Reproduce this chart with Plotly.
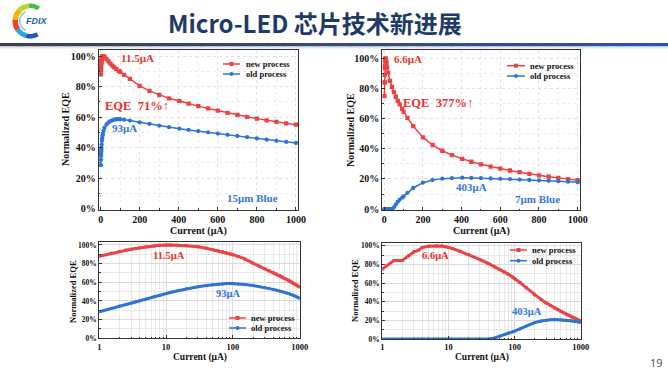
import numpy as np
import plotly.graph_objects as go

# ---------------- data ----------------
current = [1, 1.5, 2, 2.5, 3, 3.5, 4, 5, 6.6, 8, 10, 11.5, 15, 20, 30, 40, 50, 60, 70, 80,
           93, 100, 120, 150, 200, 250, 300, 350, 403, 450, 500, 550, 600, 650, 700, 750,
           800, 850, 900, 950, 1000]

new_15um = [88, 91, 93, 94.5, 95.5, 96.3, 97, 98, 99, 99.6, 100, 100, 99.8, 99.3, 98, 96.5,
            95, 93.8, 92.6, 91.5, 90.3, 89.6, 87.7, 85, 80.5, 77.2, 74.5, 72.3, 70.5, 68.8,
            67.2, 65.7, 64.2, 62.8, 61.5, 60.2, 59, 57.9, 56.9, 55.9, 55]
old_15um = [28.5, 32, 34.5, 36.2, 37.5, 38.8, 40, 42, 44.5, 46.2, 48, 49, 51, 53, 55.2, 56.5,
            57.3, 57.9, 58.3, 58.6, 58.7, 58.6, 58.3, 57.7, 56.6, 55.5, 54.4, 53.4, 52.4, 51.6,
            50.8, 50, 49.2, 48.4, 47.6, 46.8, 46, 45.2, 44.5, 43.7, 43]
new_7um = [75, 84, 84, 89, 93.5, 95, 98, 99.5, 100, 99.6, 98, 97, 94, 90.5, 85, 81,
           77.5, 74.5, 71.8, 69.5, 66.5, 64.5, 60.5, 55, 47.5, 42.5, 38.7, 35.8, 33.3, 31.4,
           29.7, 28.2, 26.8, 25.6, 24.5, 23.4, 22.4, 21.5, 20.7, 19.9, 19.2]
old_7um = [0, 0, 0, 0, 0, 0, 0, 0, 0, 0, 0, 0, 0, 0, 0, 0,
           1.2, 3, 4.8, 6.3, 7.6, 8.4, 10.8, 14, 17.5, 19.3, 20.2, 20.6, 20.8, 20.7,
           20.5, 20.3, 20.1, 19.9, 19.6, 19.3, 19.1, 18.8, 18.5, 18.2, 17.8]

series_names = ["new process", "old process"]
log_ticks = [1, 10, 100, 1000]
log_ticktext = ["1", "10", "100", "1000"]

# ---------------- styling ----------------
W, H = 668, 373
def px(x): return x / W
def py(y): return 1 - y / H

RED = "#EB4343"
BLUE = "#2E74D6"
RED_T = "#E8322E"
BLUE_T = "#3478D8"
SERIF = "Liberation Serif"

fig = go.Figure()

panels = [
    ("x", "y", new_15um, old_15um, False),
    ("x2", "y2", new_7um, old_7um, False),
    ("x3", "y3", new_15um, old_15um, True),
    ("x4", "y4", new_7um, old_7um, True),
]
for xa, ya, newv, oldv, is_log in panels:
    for name, vals, color, sym in [(series_names[0], newv, RED, "square"),
                                   (series_names[1], oldv, BLUE, "circle")]:
        fig.add_trace(go.Scatter(
            x=current, y=vals, name=name, mode="lines+markers", showlegend=False,
            line=dict(color=color, width=3 if is_log else 1.5),
            marker=dict(color=color, size=3 if is_log else 4.3, symbol=sym),
            xaxis=xa, yaxis=ya, hoverinfo="skip"))

tick_font_top = dict(family=SERIF, size=10, color="#111", weight="bold")
tick_font_bot = dict(family=SERIF, size=7.5, color="#111", weight="bold")
frame = dict(showline=True, mirror=True, linecolor="#333", linewidth=1, zeroline=False,
             fixedrange=True, tickcolor="#333", ticks="inside", automargin=False)

def lin_x(domain, anchor):
    return dict(domain=domain, anchor=anchor, range=[-10, 1012], tick0=0, dtick=200,
                ticklen=3, showgrid=True, gridcolor="#E2E2E2", griddash="dot",
                minor=dict(dtick=100, ticks="inside", ticklen=1.5, tickcolor="#333",
                           showgrid=True, gridcolor="#ECECEC", griddash="dot"),
                tickfont=tick_font_top, **frame)

def lin_y(domain, anchor, top):
    return dict(domain=domain, anchor=anchor, range=[-0.6, top], tick0=0, dtick=20,
                ticksuffix="%", ticklen=3, showgrid=True, gridcolor="#E2E2E2", griddash="dot",
                minor=dict(dtick=10, ticks="inside", ticklen=1.5, tickcolor="#333",
                           showgrid=True, gridcolor="#ECECEC", griddash="dot"),
                tickfont=tick_font_top, **frame)

def log_x(domain, anchor):
    return dict(domain=domain, anchor=anchor, type="log", range=[0, 3],
                tickvals=log_ticks, ticktext=log_ticktext, ticklen=3,
                showgrid=True, gridcolor="#DADADA",
                minor=dict(dtick="D1", ticks="inside", ticklen=1.5, tickcolor="#333",
                           showgrid=True, gridcolor="#E8E8E8"),
                tickfont=dict(family=SERIF, size=8.5, color="#111", weight="bold"), **frame)

def log_y(domain, anchor, top):
    return dict(domain=domain, anchor=anchor, range=[0, top], tick0=0, dtick=20,
                ticksuffix="%", ticklen=3, showgrid=True, gridcolor="#DADADA",
                minor=dict(dtick=10, ticks="inside", ticklen=1.5, tickcolor="#333",
                           showgrid=True, gridcolor="#E8E8E8"),
                tickfont=tick_font_bot, **frame)

fig.update_layout(
    width=W, height=H, autosize=False,
    margin=dict(l=0, r=0, t=0, b=0, pad=0, autoexpand=False),
    paper_bgcolor="white", plot_bgcolor="white", showlegend=False,
    xaxis=lin_x([px(98.7), px(298.3)], "y"),
    yaxis=lin_y([py(209.5), py(50)], "x", 104),
    xaxis2=lin_x([px(382.3), px(580)], "y2"),
    yaxis2=lin_y([py(210), py(50)], "x2", 105.5),
    xaxis3=log_x([px(99.3), px(299.7)], "y3"),
    yaxis3=log_y([py(338.3), py(241.7)], "x3", 103.5),
    xaxis4=log_x([px(382.3), px(580.7)], "y4"),
    yaxis4=log_y([py(339), py(242.7)], "x4", 103.2),
)

def ann(text, x, y, xref, yref, color, size, xanchor="center", yanchor="middle", **kw):
    fig.add_annotation(text=text, x=x, y=y, xref=xref, yref=yref, showarrow=False,
                       xanchor=xanchor, yanchor=yanchor,
                       font=dict(family=SERIF, size=size, color=color, weight="bold"), **kw)

# in-plot labels (data coordinates)
ann("11.5μA", 190, 99, "x", "y", RED_T, 11)
ann("EQE  71%↑", 188, 67.2, "x", "y", RED_T, 12.5)
ann("93μA", 124, 52.7, "x", "y", BLUE_T, 11)
ann("15μm Blue", 780, 6.8, "x", "y", BLUE_T, 11)
ann("6.6μA", 122, 99.3, "x2", "y2", RED_T, 11)
ann("EQE  377%↑", 276, 70.3, "x2", "y2", RED_T, 12.5)
ann("403μA", 452, 14.8, "x2", "y2", BLUE_T, 11)
ann("7μm Blue", 792, 6.6, "x2", "y2", BLUE_T, 11)
ann("11.5μA", np.log10(10.9), 88.2, "x3", "y3", RED_T, 10.5)
ann("93μA", np.log10(84.5), 48.2, "x3", "y3", BLUE_T, 10.5)
ann("6.6μA", np.log10(6.27), 89.3, "x4", "y4", RED_T, 10.5)
ann("403μA", np.log10(152.7), 29.3, "x4", "y4", BLUE_T, 10.5)

# axis titles
for (x, y) in [(65, 129), (350, 130)]:
    ann("Normalized EQE", px(x), py(y), "paper", "paper", "#111", 10, textangle=-90)
for (x, y) in [(73, 292), (355, 291)]:
    ann("Normalized EQE", px(x), py(y), "paper", "paper", "#111", 8.5, textangle=-90)
for (x, y) in [(198, 231), (481, 231)]:
    ann("Current (μA)", px(x), py(y), "paper", "paper", "#111", 10)
for (x, y) in [(199.5, 357.5), (481.5, 357.5)]:
    ann("Current (μA)", px(x), py(y), "paper", "paper", "#111", 9.5)

shapes = []

# legends (drawn as keys + text)
legend_pos = [  # (line x0, line x1, text x, y new, y old)
    (223, 240, 244, 64, 74),
    (507, 525, 528, 65.7, 76),
    (229, 246, 249, 318, 328),
    (510, 527, 530, 250, 260.7),
]
for lx0, lx1, tx, yn, yo in legend_pos:
    for name, color, yy, sym in [(series_names[0], RED, yn, "rect"),
                                 (series_names[1], BLUE, yo, "circle")]:
        shapes.append(dict(type="line", xref="paper", yref="paper", x0=px(lx0), x1=px(lx1),
                           y0=py(yy), y1=py(yy), line=dict(color=color, width=1.5)))
        xm = (lx0 + lx1) / 2
        shapes.append(dict(type=sym, xref="paper", yref="paper", x0=px(xm - 2), x1=px(xm + 2),
                           y0=py(yy + 2), y1=py(yy - 2), line=dict(width=0), fillcolor=color))
        ann(name, px(tx), py(yy), "paper", "paper", "#111", 8.5, xanchor="left")

# slide title & page number
fig.add_annotation(text="Micro-LED 芯片技术新进展", x=px(315), y=py(22), xref="paper", yref="paper",
                   showarrow=False, xanchor="center", yanchor="middle",
                   font=dict(family="Noto Sans CJK SC", size=24, color="#1F3A66", weight="bold"))
fig.add_annotation(text="19", x=px(656), y=py(362), xref="paper", yref="paper", showarrow=False,
                   xanchor="center", yanchor="middle",
                   font=dict(family="Noto Sans", size=11, color="#555"))

# header rule with gradient (decorative)
n = 40
c0 = np.array([62, 66, 76]); c1 = np.array([44, 84, 168])
for i in range(n):
    c = (c0 + (c1 - c0) * i / (n - 1)).astype(int)
    shapes.append(dict(type="rect", xref="paper", yref="paper", x0=i / n, x1=(i + 1) / n + 0.002,
                       y0=py(46.5), y1=py(43), line=dict(width=0),
                       fillcolor=f"rgb({int(c[0])},{int(c[1])},{int(c[2])})"))
shapes.append(dict(type="rect", xref="paper", yref="paper", x0=0, x1=1, y0=py(48.5), y1=py(46.5),
                   line=dict(width=0), fillcolor="#E4E6EA"))

# logo arcs (decorative)
def arc(cx, cy, r0, r1, a0, a1, color, m=16):
    a = np.radians(np.linspace(a0, a1, m))
    pts = [(cx + r1 * np.cos(t), cy - r1 * np.sin(t)) for t in a]
    pts += [(cx + r0 * np.cos(t), cy - r0 * np.sin(t)) for t in a[::-1]]
    path = "M " + " L ".join(f"{px(x):.5f},{py(y):.5f}" for x, y in pts) + " Z"
    return dict(type="path", xref="paper", yref="paper", path=path, line=dict(width=0),
                fillcolor=color)

cx, cy = 30, 21
for a0, a1, col, r0 in [(55, 95, "#4DB848", 13), (95, 135, "#B9D531", 12.5),
                        (135, 175, "#F4B400", 12), (175, 215, "#E8452F", 12),
                        (215, 255, "#2AA8E0", 12.5), (255, 300, "#1E5BB8", 13)]:
    shapes.append(arc(cx, cy, r0, 17.5, a0, a1, col))
shapes.append(arc(cx, cy, 9.5, 11, 115, 245, "#8BC6EA"))
fig.update_layout(shapes=shapes)
fig.add_annotation(text="<i>FDIX</i>", x=px(36), y=py(21), xref="paper", yref="paper",
                   showarrow=False, xanchor="center", yanchor="middle",
                   font=dict(family="Liberation Sans", size=9, color="#1D5CB4", weight="bold"))

fig.write_html("out.html", config={"displayModeBar": False, "staticPlot": True},
               post_script="document.body.style.margin='0';document.body.style.padding='0';")
